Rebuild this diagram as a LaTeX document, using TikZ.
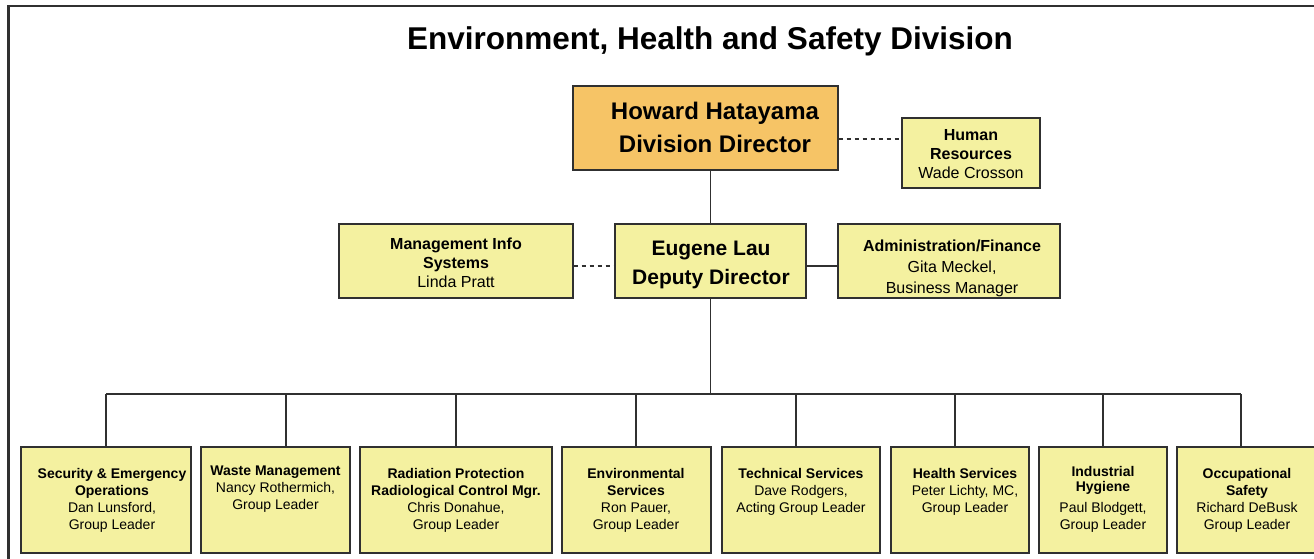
\documentclass[tikz,border=0pt]{standalone}
\usepackage{fontspec}
\setmainfont{Liberation Sans}
\definecolor{boxyellow}{HTML}{F4F1A0}
\definecolor{boxorange}{HTML}{F6C466}
\definecolor{inkline}{HTML}{303030}
\newcommand{\fsz}[2]{\fontsize{#1}{#2}\selectfont}
\begin{document}
\begin{tikzpicture}[x=1pt,y=-1pt,
  unit/.style={draw=inkline, line width=1.3pt, fill=boxyellow, inner sep=0pt, rectangle},
  headunit/.style={unit, fill=boxorange},
  label/.style={align=center, inner sep=0pt, anchor=north, text=black},
  small/.style={label, font=\fsz{14}{17}},
  mid/.style={label, font=\fsz{16}{19}},
  link/.style={draw=inkline, line width=1.3pt},
  dotlink/.style={link, line width=1.1pt, dash pattern=on 4pt off 4pt}]
\useasboundingbox (0,0) rectangle (1314,559);
\clip (0,0) rectangle (1314,559);
\fill[white] (0,0) rectangle (1314,559);

% outer frame (runs past the right and bottom edges)
\draw[draw=inkline, line width=2.4pt] (8.5,6) rectangle (1340,600);

% title
\node[inner sep=0pt, font=\bfseries\fsz{31.5}{36}] (title) at (710,41) {Environment, Health and Safety Division};

% top level
\node[headunit, minimum width=265pt, minimum height=84pt] (dir) at (705.5,128) {};
\node[label, font=\bfseries\fsz{24}{33}] (dirtxt) at (715,101.5) {Howard Hatayama\\Division Director};

\node[unit, minimum width=138pt, minimum height=70pt] (hr) at (971,153) {};
\node[mid] (hrtxt) at (971,129.5) {\textbf{Human}\\\textbf{Resources}\\Wade Crosson};

% second level
\node[unit, minimum width=191pt, minimum height=74pt] (dep) at (710.5,261) {};
\node[label, font=\bfseries\fsz{21}{29}] (deptxt) at (711,240.5) {Eugene Lau\\Deputy Director};

\node[unit, minimum width=234pt, minimum height=74pt] (mis) at (456,261) {};
\node[mid] (mistxt) at (456,237.5) {\textbf{Management Info}\\\textbf{Systems}\\Linda Pratt};

\node[unit, minimum width=222pt, minimum height=74pt] (adm) at (949,261) {};
\node[label, font=\fsz{16}{21}] (admtxt) at (952,239.5) {\textbf{Administration/Finance}\\Gita Meckel,\\Business Manager};

% groups
\node[unit, minimum width=170pt, minimum height=106pt] (g1) at (106,500) {};
\node[unit, minimum width=149pt, minimum height=106pt] (g2) at (275.5,500) {};
\node[unit, minimum width=192pt, minimum height=106pt] (g3) at (456,500) {};
\node[unit, minimum width=149pt, minimum height=106pt] (g4) at (636.5,500) {};
\node[unit, minimum width=158pt, minimum height=106pt] (g5) at (801,500) {};
\node[unit, minimum width=138pt, minimum height=106pt] (g6) at (960,500) {};
\node[unit, minimum width=128pt, minimum height=106pt] (g7) at (1103,500) {};
\node[unit, minimum width=141pt, minimum height=106pt] (g8) at (1247.5,500) {};

\node[small] (g1txt) at (112,468) {\textbf{Security \& Emergency}\\\textbf{Operations}\\Dan Lunsford,\\Group Leader};
\node[small] (g2txt) at (275.5,466) {\textbf{Waste Management}\\Nancy Rothermich,\\Group Leader};
\node[small] (g3txt) at (456,468) {\textbf{Radiation Protection}\\\textbf{Radiological Control Mgr.}\\Chris Donahue,\\Group Leader};
\node[small] (g4txt) at (636,468) {\textbf{Environmental}\\\textbf{Services}\\Ron Pauer,\\Group Leader};
\node[small] (g5txt) at (801,468) {\textbf{Technical Services}\\Dave Rodgers,\\Acting Group Leader};
\node[small] (g6txt) at (965,468) {\textbf{Health Services}\\Peter Lichty, MC,\\Group Leader};
\node[small] (g7txt) at (1103,466) {\textbf{Industrial}\\[-2pt]\textbf{Hygiene}\\[4pt]Paul Blodgett,\\Group Leader};
\node[small] (g8txt) at (1247,468) {\textbf{Occupational}\\\textbf{Safety}\\Richard DeBusk\\Group Leader};

% connectors
\coordinate (hrrow) at (0,139);
\coordinate (midrow) at (0,266);
\coordinate (bus) at (0,394);

\draw[link] (dep.north) -- (dep.north |- dir.south);
\draw[dotlink] (dir.east |- hrrow) -- (hr.west |- hrrow);
\draw[dotlink] (mis.east |- midrow) -- (dep.west |- midrow);
\draw[link] (dep.east |- midrow) -- (adm.west |- midrow);
\draw[link] (dep.south) -- (dep.south |- bus);

\coordinate (d1) at (106,394);
\coordinate (d2) at (286,394);
\coordinate (d3) at (456,394);
\coordinate (d4) at (636,394);
\coordinate (d5) at (796,394);
\coordinate (d6) at (955,394);
\coordinate (d7) at (1103,394);
\coordinate (d8) at (1241,394);
\draw[link] (d1) -- (d8);
\draw[link] (d1) -- (d1 |- g1.north);
\draw[link] (d2) -- (d2 |- g2.north);
\draw[link] (d3) -- (d3 |- g3.north);
\draw[link] (d4) -- (d4 |- g4.north);
\draw[link] (d5) -- (d5 |- g5.north);
\draw[link] (d6) -- (d6 |- g6.north);
\draw[link] (d7) -- (d7 |- g7.north);
\draw[link] (d8) -- (d8 |- g8.north);
\end{tikzpicture}
\end{document}
